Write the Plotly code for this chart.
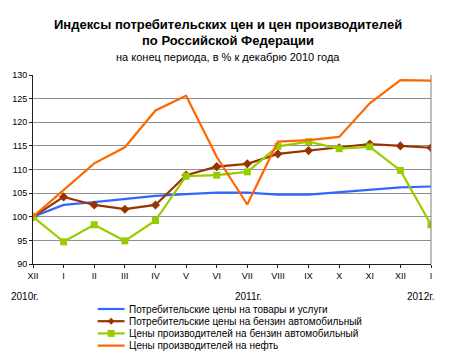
import plotly.graph_objects as go

months = ["XII", "I", "II", "III", "IV", "V", "VI", "VII", "VIII", "IX", "X", "XI", "XII", "I"]
cpi_all = [100, 102.5, 103.1, 103.8, 104.4, 104.8, 105.1, 105.1, 104.7, 104.7, 105.2, 105.7, 106.2, 106.4]
cpi_petrol = [100, 104.2, 102.5, 101.6, 102.5, 108.8, 110.6, 111.2, 113.3, 114.0, 114.6, 115.4, 115.0, 114.6]
ppi_petrol = [100, 94.7, 98.3, 94.9, 99.2, 108.6, 108.8, 109.5, 114.9, 115.9, 114.4, 114.8, 109.8, 98.3]
ppi_oil = [100, 105.6, 111.3, 114.7, 122.5, 125.6, 112.7, 102.6, 115.9, 116.2, 116.9, 124.0, 128.9, 128.8]
series_names = [
    "Потребительские цены на товары и услуги",
    "Потребительские цены на бензин автомобильный",
    "Цены производителей на бензин автомобильный",
    "Цены производителей на нефть",
]
colors = ["#3366FF", "#993300", "#99CC00", "#FF6600"]
years = ["2010г.", "2011г.", "2012г."]

FONT = "Liberation Sans, Arial, sans-serif"
W, H = 452, 358
L, R, T, B = 31, 21, 75, 94
pw, ph = W - L - R, H - T - B

def px(x):
    return (x - L) / pw

def py(y):
    return (H - B - y) / ph

xs = list(range(len(months)))
LW = 2.2
fig = go.Figure()
fig.add_trace(go.Scatter(x=xs, y=cpi_all, mode="lines", line=dict(color=colors[0], width=LW), showlegend=False))
fig.add_trace(go.Scatter(x=xs, y=cpi_petrol, mode="lines+markers", line=dict(color=colors[1], width=LW),
                         marker=dict(symbol="diamond", size=7, color=colors[1]), showlegend=False))
fig.add_trace(go.Scatter(x=xs, y=ppi_petrol, mode="lines+markers", line=dict(color=colors[2], width=LW),
                         marker=dict(symbol="square", size=7, color=colors[2]), showlegend=False))
fig.add_trace(go.Scatter(x=xs, y=ppi_oil, mode="lines", line=dict(color=colors[3], width=LW), showlegend=False))

shapes = []
annotations = []
shapes.append(dict(type="line", xref="paper", yref="paper", x0=1, x1=1, y0=0, y1=1,
                   line=dict(color="#808080", width=1)))

def ann(text, x, y, size, xanchor="center"):
    annotations.append(dict(text=text, xref="paper", yref="paper", x=px(x), y=py(y), xanchor=xanchor,
                            yanchor="middle", showarrow=False,
                            font=dict(family=FONT, size=size, color="black")))

ann("<b>Индексы потребительских цен и цен производителей</b>", 227, 24, 13)
ann("<b>по Российской Федерации</b>", 227, 41, 13)
ann("на конец периода, в % к декабрю 2010 года", 227, 57, 11)

for label, xc in zip(years, [22, 248, 420]):
    ann(label, xc, 296, 10)

rows = [309, 321.2, 333.4, 345.6]
for i, (name, c, yy) in enumerate(zip(series_names, colors, rows)):
    shapes.append(dict(type="line", xref="paper", yref="paper", x0=px(96), x1=px(123), y0=py(yy), y1=py(yy),
                       line=dict(color=c, width=LW)))
    if i == 1:
        shapes.append(dict(type="path", xref="paper", yref="paper",
                           path=f"M {px(109.5)} {py(yy-3.5)} L {px(113)} {py(yy)} L {px(109.5)} {py(yy+3.5)} L {px(106)} {py(yy)} Z",
                           fillcolor=c, line=dict(color=c, width=0)))
    if i == 2:
        shapes.append(dict(type="rect", xref="paper", yref="paper", x0=px(106), x1=px(113),
                           y0=py(yy - 3.5), y1=py(yy + 3.5), fillcolor=c, line=dict(color=c, width=0)))
    ann(name, 125, yy, 10, xanchor="left")

fig.update_layout(
    width=W, height=H,
    margin=dict(l=L, r=R, t=T, b=B),
    paper_bgcolor="white", plot_bgcolor="white",
    showlegend=False,
    font=dict(family=FONT, size=9, color="black"),
    xaxis=dict(tickmode="array", tickvals=xs, ticktext=months, range=[0, 13],
               showgrid=False, showline=True, linecolor="#202020", linewidth=1, ticks="outside",
               ticklen=3, tickcolor="#202020", zeroline=False, tickfont=dict(family=FONT, size=9)),
    yaxis=dict(range=[90, 130], dtick=5, showgrid=True, gridcolor="#909090", gridwidth=1,
               showline=True, linecolor="#202020", linewidth=1, ticks="outside", ticklen=3,
               tickcolor="#202020", zeroline=False, tickfont=dict(family=FONT, size=9)),
    shapes=shapes, annotations=annotations,
)
fig.write_html("out.html", config={"displayModeBar": False},
               post_script="document.body.style.margin='0';document.body.style.overflow='hidden';")
